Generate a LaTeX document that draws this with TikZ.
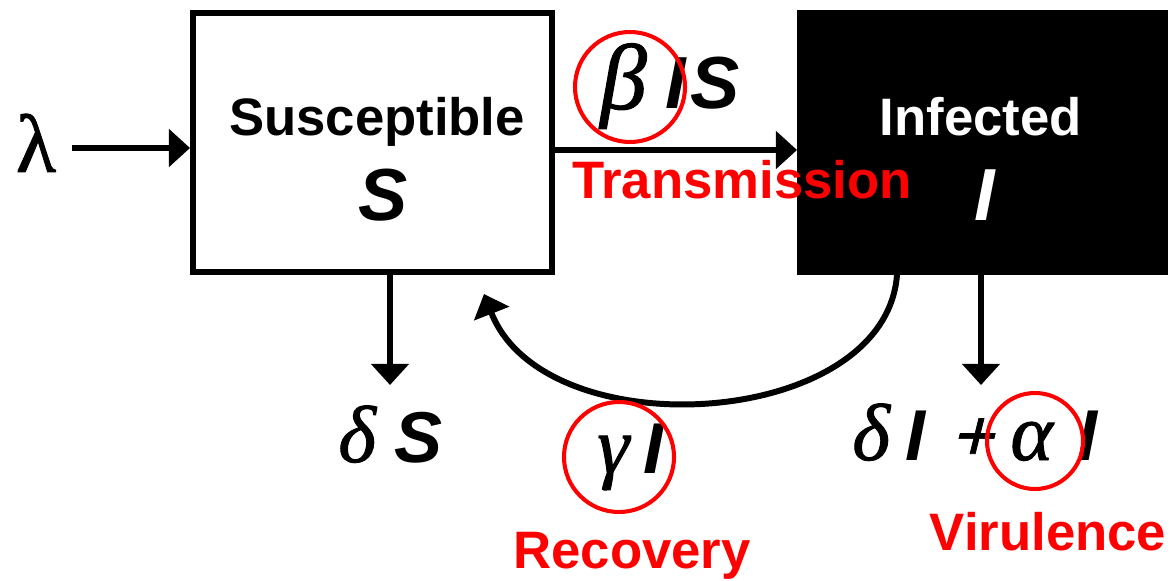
\documentclass[tikz,border=0pt]{standalone}
\usepackage{fontspec}
\setmainfont{Liberation Sans}
\newfontfamily\grk[FakeBold=1.2]{Liberation Serif}
\newfontfamily\slsans[FakeSlant=0.25, FakeBold=1]{Liberation Sans}
\usetikzlibrary{arrows.meta}
\definecolor{pred}{RGB}{255,0,0}
\newcommand{\gl}[1]{{\fontsize{46}{54}\selectfont\grk\mdseries\itshape #1}}
\newcommand{\bx}[2]{\makebox[#1][l]{#2}}
\begin{document}
\begin{tikzpicture}[x=0.02cm,y=-0.02cm,
  arr/.style={line width=3.4pt,-{Triangle[length=12pt,width=21pt]}},
  lbl/.style={font=\fontsize{30}{36}\selectfont\bfseries, inner sep=0, anchor=base},
  redlbl/.style={lbl, text=pred},
  var/.style={font=\fontsize{42}{50}\selectfont\bfseries\itshape, inner sep=0, anchor=base},
  formula/.style={font=\fontsize{41}{50}\selectfont\bfseries\itshape, inner sep=0, anchor=base west},
  ring/.style={draw=pred, line width=2.3pt}
]
\useasboundingbox (0,0) rectangle (1173,581);
% boxes
\node[draw=black, line width=3.4pt, minimum width=7.18cm, minimum height=5.18cm, inner sep=0] (sbox) at (372.5,142.5) {};
\node[draw=black, fill=black, line width=0pt, minimum width=7.42cm, minimum height=5.3cm, inner sep=0] (ibox) at (982.5,142.5) {};
\node[lbl] (stext) at (377,135) {Susceptible};
\node[var] (svar) at (383,220) {S};
\node[lbl, text=white] (itext) at (981,135) {Infected};
\node[var, text=white] (ivar) at (985,220) {I};
% lambda
\node[inner sep=0, anchor=base, font=\fontsize{47}{54}\selectfont\grk] (lam) at (36,172) {λ};
\coordinate (lamend) at (72,148);
\draw[arr] (lamend) -- (sbox.west |- lamend);
% transmission
\coordinate (trow) at (0,150);
\draw[arr] (sbox.east |- trow) -- (ibox.west |- trow);
\node[formula, font=\fontsize{42}{50}\selectfont\bfseries\itshape] (bis) at (600,109) {\bx{37pt}{{\fontsize{53}{60}\selectfont\grk\mdseries\itshape β}}\bx{14.5pt}{I}S};
\draw[ring] (630,87) circle [radius=55];
\node[redlbl] (trans) at (742,198) {Transmission};
% deaths S
\coordinate (dstip) at (390,385);
\draw[arr] (sbox.south -| dstip) -- (dstip);
\node[formula] (ds) at (338,462) {\bx{32pt}{\gl{δ}}S};
% recovery
\coordinate (rstart) at (897,0);
\coordinate (rtip) at (484,294);
\draw[arr] (ibox.south -| rstart) .. controls (885,430) and (545,450) .. (rtip);
\node[formula] (gi) at (597,473) {\bx{26pt}{\gl{γ}}I};
\draw[ring] (619,457) circle [radius=55];
\node[redlbl] (rec) at (632,568) {Recovery};
% deaths I
\coordinate (ditip) at (981,385);
\draw[arr] (ibox.south -| ditip) -- (ditip);
\node[formula] (di) at (852,460) {\bx{30pt}{\gl{δ}}\bx{25pt}{I}\bx{35pt}{{\slsans\mdseries +}}\bx{38pt}{\gl{α}}I};
\draw[ring] (1035,441) circle [radius=48];
\node[redlbl] (vir) at (1048,550) {Virulence};
\end{tikzpicture}
\end{document}
